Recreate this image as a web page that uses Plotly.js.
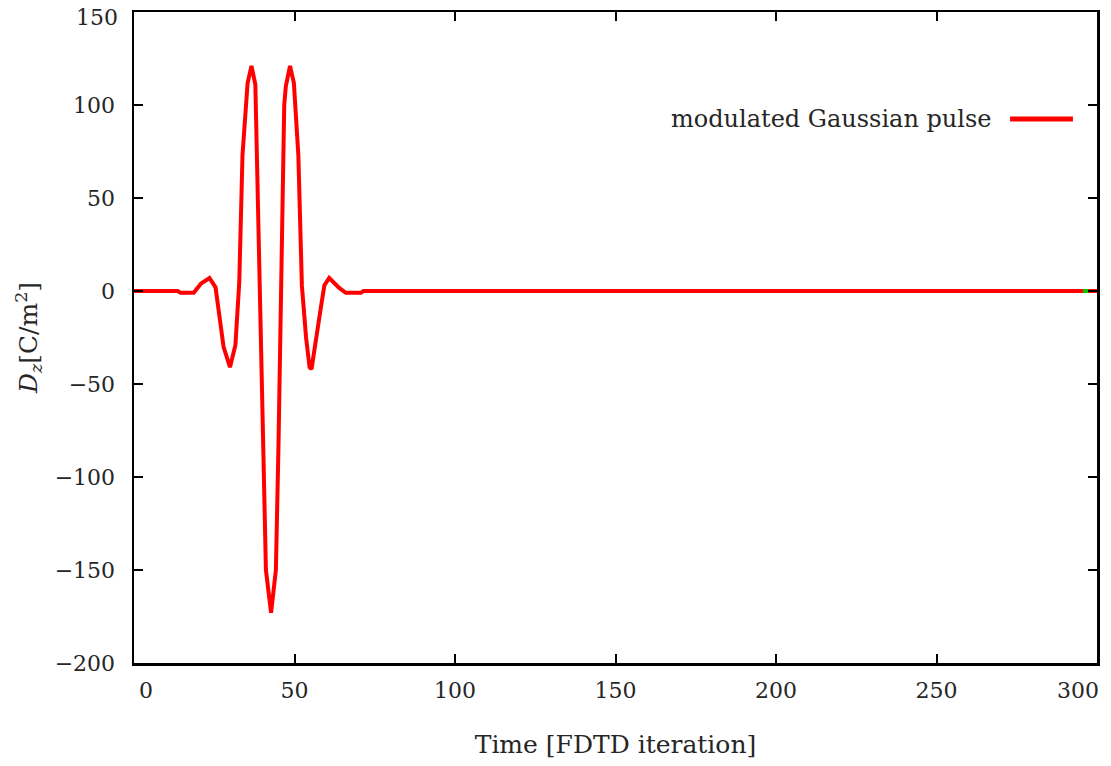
<!DOCTYPE html>
<html>
<head>
<meta charset="utf-8">
<script src="https://cdn.plot.ly/plotly-3.0.1.min.js"></script>
<style>html,body{margin:0;padding:0;background:#fff;}</style>
</head>
<body>
<div id="chart" style="width:1111px;height:766px;"></div>
<script>
// Time [FDTD iteration]
const timeSteps = [0, 13.6, 14.5, 18.6, 20.9, 23.5, 25.4, 27.9, 29.9, 31.6, 32.8, 33.8, 35.4, 36.6, 37.8, 41.1, 42.7, 44.2, 45.0, 46.8, 47.3, 48.6, 49.8, 51.2, 52.3, 53.6, 54.7, 55.3, 58.2, 59.3, 60.8, 62.0, 64.0, 66.0, 70.7, 71.5, 300];
// D_z [C/m^2]
const dzValues = [0, 0, -1, -1, 4, 7, 2, -30, -41, -29, 5, 73, 112, 121, 111, -150, -173, -150, -84, 100, 110, 121, 112, 73, 3, -25, -41, -42, -9, 3, 7, 5, 1.5, -1, -1, 0, 0];
// tiny second series visible at the right end
const tailTime = [295.7, 297.3];
const tailValues = [0, 0];

const xTicks = [0, 50, 100, 150, 200, 250, 300];
const xTickLabels = ['0', '50', '100', '150', '200', '250', '300'];
const yTicks = [-200, -150, -100, -50, 0, 50, 100, 150];
const yTickLabels = ['\u2212200', '\u2212150', '\u2212100', '\u221250', '0', '50', '100', '150'];
const legendLabel = 'modulated Gaussian pulse';

const FONT = 'DejaVu Serif, Liberation Serif, serif';
const TXT = '#262626';

const traces = [
  {x: timeSteps, y: dzValues, type: 'scatter', mode: 'lines', name: legendLabel,
   line: {color: '#ff0000', width: 4}, showlegend: false},
  {x: tailTime, y: tailValues, type: 'scatter', mode: 'lines',
   line: {color: '#00cc00', width: 4}, showlegend: false, hoverinfo: 'skip'}
];

// edge tick labels are nudged inward (as in the reference) via annotations
const lastX = xTicks.length - 1, lastY = yTicks.length - 1;
const xTickTextShown = xTickLabels.map((t, i) => (i === 0 || i === lastX) ? '' : t);
const yTickTextShown = yTickLabels.map((t, i) => (i === lastY) ? '' : t);

const axisCommon = {
  showgrid: false, zeroline: false, showline: true, linecolor: '#000', linewidth: 2.5,
  mirror: 'ticks', ticks: 'inside', ticklen: 9, tickwidth: 2, tickcolor: '#000',
  tickfont: {family: FONT, size: 22, color: TXT}
};

const tickFont = {family: FONT, size: 22, color: TXT};
const annotations = [
  {xref: 'x', yref: 'paper', x: xTicks[0], y: 0, xanchor: 'center', yanchor: 'top',
   xshift: 12, yshift: -13, text: xTickLabels[0], showarrow: false, font: tickFont},
  {xref: 'x', yref: 'paper', x: xTicks[lastX], y: 0, xanchor: 'center', yanchor: 'top',
   xshift: -19, yshift: -13, text: xTickLabels[lastX], showarrow: false, font: tickFont},
  {xref: 'paper', yref: 'y', x: 0, y: yTicks[lastY], xanchor: 'right', yanchor: 'middle',
   xshift: -14, yshift: -5, text: yTickLabels[lastY], showarrow: false, font: tickFont},
  {xref: 'paper', yref: 'paper', x: 0.893, y: 0.8356, xanchor: 'right', yanchor: 'middle',
   text: legendLabel, showarrow: false, font: {family: FONT, size: 24, color: TXT}}
];

const layout = {
  width: 1111, height: 766,
  margin: {l: 134, r: 14, t: 12, b: 103},
  paper_bgcolor: '#fff', plot_bgcolor: '#fff',
  font: {family: FONT, color: TXT},
  showlegend: false,
  xaxis: Object.assign({}, axisCommon, {
    range: [0, 300], tickvals: xTicks, ticktext: xTickTextShown,
    ticklabelstandoff: 6,
    title: {text: 'Time [FDTD iteration]', font: {family: FONT, size: 25, color: TXT}, standoff: 34}
  }),
  yaxis: Object.assign({}, axisCommon, {
    range: [-200, 150], tickvals: yTicks, ticktext: yTickTextShown,
    ticklabelstandoff: 12,
    title: {text: '<i>D</i><sub><i>z</i></sub>[C/m<sup>2</sup>]', font: {family: FONT, size: 25, color: TXT}, standoff: 10}
  }),
  annotations: annotations,
  shapes: [{
    type: 'line', xref: 'paper', yref: 'paper', x0: 0.9097, x1: 0.975, y0: 0.8356, y1: 0.8356,
    line: {color: '#ff0000', width: 5}
  }]
};

Plotly.newPlot('chart', traces, layout, {displayModeBar: false, staticPlot: true});
</script>
</body>
</html>
